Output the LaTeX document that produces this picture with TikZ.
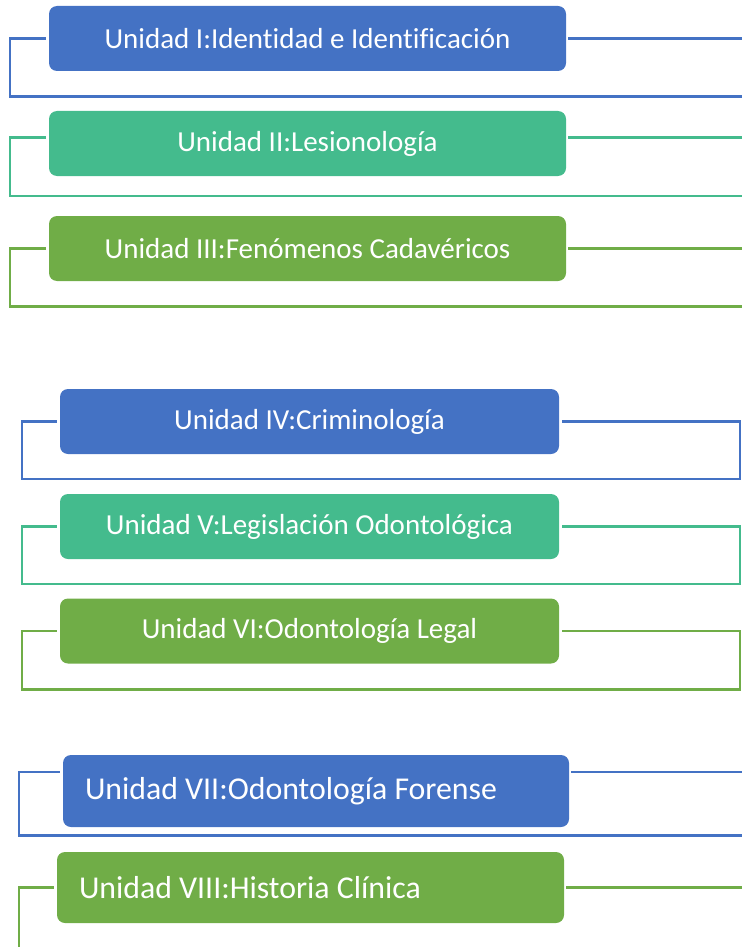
\documentclass[tikz,border=0pt]{standalone}
\usepackage{fontspec}
\setmainfont{Carlito}[Ligatures=NoCommon]
\definecolor{unitblue}{HTML}{4472C4}
\definecolor{unitteal}{HTML}{44BB8D}
\definecolor{unitgreen}{HTML}{70AD47}

\begin{document}
\begin{tikzpicture}[x=1pt, y=-1pt,
	unit/.style={rounded corners=8pt, fill=#1, text=white, inner sep=0pt,
		font=\fontsize{29}{31}\selectfont},
	wideunit/.style={unit=#1, minimum width=517pt, minimum height=65pt},
	midunit/.style={unit=#1, minimum width=499pt, minimum height=65pt},
	lowunit/.style={unit=#1, minimum height=71pt, inner xsep=22pt, align=flush left,
		font=\fontsize{31.8}{34}\selectfont},
	link/.style={draw=#1, line width=2.2pt}]
	
	\useasboundingbox (0,0) rectangle (742,947);
	
	% first block
	\node[wideunit=unitblue] (u1) at (307.5,38.5) {Unidad I:Identidad e Identificación};
	\node[wideunit=unitteal] (u2) at (307.5,143.5) {Unidad II:Lesionología};
	\node[wideunit=unitgreen] (u3) at (307.5,248.5) {Unidad III:Fenómenos Cadavéricos};
	
	\coordinate (c1) at (10,96.5);  \coordinate (e1) at (742,96.5);
	\coordinate (c2) at (10,196);   \coordinate (e2) at (742,196);
	\coordinate (c3) at (10,306.5); \coordinate (e3) at (742,306.5);
	
	\draw[link=unitblue] ([xshift=-3pt]u1.west) -| (c1) -- (e1);
	\draw[link=unitblue] ([xshift=2pt]u1.east) -- (u1.east -| e1);
	\draw[link=unitteal] ([xshift=-3pt, yshift=6pt]u2.west) -| (c2) -- (e2);
	\draw[link=unitteal] ([xshift=2pt, yshift=6pt]u2.east) -- ([yshift=6pt]u2.east -| e2);
	\draw[link=unitgreen] ([xshift=-3pt]u3.west) -| (c3) -- (e3);
	\draw[link=unitgreen] ([xshift=2pt]u3.east) -- (u3.east -| e3);
	
	% second block
	\node[midunit=unitblue] (u4) at (309.5,421.5) {Unidad IV:Criminología};
	\node[midunit=unitteal] (u5) at (309.5,526.5) {Unidad V:Legislación Odontológica};
	\node[midunit=unitgreen] (u6) at (309.5,631) {Unidad VI:Odontología Legal};
	
	\coordinate (c4) at (22,479);   \coordinate (e4) at (740,479);
	\coordinate (c5) at (22,584);   \coordinate (e5) at (740,584);
	\coordinate (c6) at (22,689.5); \coordinate (e6) at (740,689.5);
	
	\draw[link=unitblue] ([xshift=-3pt]u4.west) -| (c4) -- (e4) |- ([xshift=3pt]u4.east);
	\draw[link=unitteal] ([xshift=-3pt]u5.west) -| (c5) -- (e5) |- ([xshift=3pt]u5.east);
	\draw[link=unitgreen] ([xshift=-3pt]u6.west) -| (c6) -- (e6) |- ([xshift=3pt]u6.east);
	
	% third block
	\node[lowunit=unitblue, minimum height=72pt, text width=462pt] (u7) at (316,791) {Unidad VII:Odontología Forense};
	\node[lowunit=unitgreen, text width=463pt] (u8) at (310.5,887.5) {Unidad VIII:Historia Clínica};
	
	\coordinate (c7) at (19,835.5); \coordinate (e7) at (742,835.5);
	\coordinate (c8) at (19,947);   \coordinate (redge) at (742,0);
	
	\draw[link=unitblue] ([xshift=-3pt, yshift=19pt]u7.west) -| (c7) -- (e7);
	\draw[link=unitblue] ([xshift=2pt, yshift=19pt]u7.east) -- ([yshift=19pt]u7.east -| redge);
	\draw[link=unitgreen] ([xshift=-3pt]u8.west) -| (c8);
	\draw[link=unitgreen] ([xshift=2pt]u8.east) -- (u8.east -| redge);
	
\end{tikzpicture}
\end{document}
